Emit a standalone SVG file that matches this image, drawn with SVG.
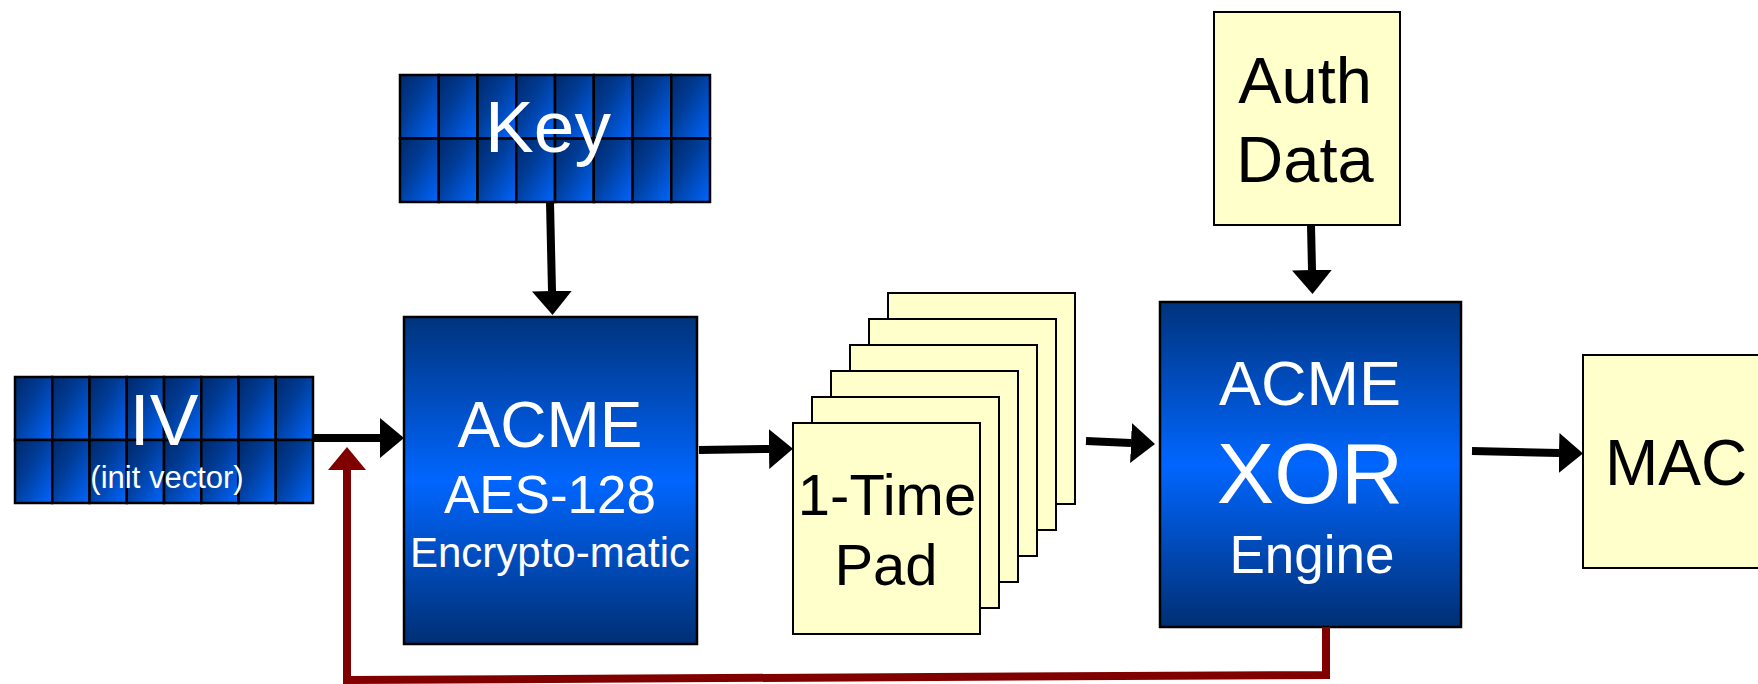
<svg xmlns="http://www.w3.org/2000/svg" width="1758" height="684" viewBox="0 0 1758 684">
  <defs>
    <linearGradient id="boxGrad" x1="0" y1="0" x2="0" y2="1">
      <stop offset="0" stop-color="#00337d"/>
      <stop offset="0.5" stop-color="#0066ff"/>
      <stop offset="1" stop-color="#002f74"/>
    </linearGradient>
    <linearGradient id="cellGrad" x1="0" y1="0" x2="1" y2="1">
      <stop offset="0" stop-color="#00286a"/>
      <stop offset="0.4" stop-color="#003c96"/>
      <stop offset="1" stop-color="#0066ff"/>
    </linearGradient>
    <marker id="arrowBlack" markerUnits="userSpaceOnUse" markerWidth="24" markerHeight="40" refX="0" refY="20" orient="auto">
      <path d="M0,0 L24,20 L0,40 Z" fill="#000"/>
    </marker>
    <marker id="arrowRed" markerUnits="userSpaceOnUse" markerWidth="23" markerHeight="38" refX="0" refY="19" orient="auto">
      <path d="M0,0 L23,19 L0,38 Z" fill="#800000"/>
    </marker>
    <style>
      .cell { fill: url(#cellGrad); stroke: #000; stroke-width: 2.5; }
      .blue { fill: url(#boxGrad); stroke: #000; stroke-width: 2.5; }
      .pad { fill: #ffffcc; stroke: #000; stroke-width: 2; }
      .wt { fill: #fff; font-family: "Liberation Sans", Arial, sans-serif; text-anchor: middle; }
      .bt { fill: #000; font-family: "Liberation Sans", Arial, sans-serif; text-anchor: middle; }
      .conn { fill: none; stroke: #000; stroke-width: 8; marker-end: url(#arrowBlack); }
      .feedback { fill: none; stroke: #800000; stroke-width: 8; stroke-linejoin: miter; marker-end: url(#arrowRed); }
    </style>
  </defs>

  <rect width="1758" height="684" fill="#fff"/>

  <!-- Key register: 8 x 2 cells -->
  <g id="key">
    <rect class="cell" x="400" y="75" width="38.75" height="63.5"/>
    <rect class="cell" x="438.75" y="75" width="38.75" height="63.5"/>
    <rect class="cell" x="477.5" y="75" width="38.75" height="63.5"/>
    <rect class="cell" x="516.25" y="75" width="38.75" height="63.5"/>
    <rect class="cell" x="555" y="75" width="38.75" height="63.5"/>
    <rect class="cell" x="593.75" y="75" width="38.75" height="63.5"/>
    <rect class="cell" x="632.5" y="75" width="38.75" height="63.5"/>
    <rect class="cell" x="671.25" y="75" width="38.75" height="63.5"/>
    <rect class="cell" x="400" y="138.5" width="38.75" height="63.5"/>
    <rect class="cell" x="438.75" y="138.5" width="38.75" height="63.5"/>
    <rect class="cell" x="477.5" y="138.5" width="38.75" height="63.5"/>
    <rect class="cell" x="516.25" y="138.5" width="38.75" height="63.5"/>
    <rect class="cell" x="555" y="138.5" width="38.75" height="63.5"/>
    <rect class="cell" x="593.75" y="138.5" width="38.75" height="63.5"/>
    <rect class="cell" x="632.5" y="138.5" width="38.75" height="63.5"/>
    <rect class="cell" x="671.25" y="138.5" width="38.75" height="63.5"/>
    <text class="wt" x="548" y="152" font-size="73">Key</text>
  </g>

  <!-- Initialisation vector register: 8 x 2 cells -->
  <g id="iv">
    <rect class="cell" x="15" y="377" width="37.25" height="63"/>
    <rect class="cell" x="52.25" y="377" width="37.25" height="63"/>
    <rect class="cell" x="89.5" y="377" width="37.25" height="63"/>
    <rect class="cell" x="126.75" y="377" width="37.25" height="63"/>
    <rect class="cell" x="164" y="377" width="37.25" height="63"/>
    <rect class="cell" x="201.25" y="377" width="37.25" height="63"/>
    <rect class="cell" x="238.5" y="377" width="37.25" height="63"/>
    <rect class="cell" x="275.75" y="377" width="37.25" height="63"/>
    <rect class="cell" x="15" y="440" width="37.25" height="63"/>
    <rect class="cell" x="52.25" y="440" width="37.25" height="63"/>
    <rect class="cell" x="89.5" y="440" width="37.25" height="63"/>
    <rect class="cell" x="126.75" y="440" width="37.25" height="63"/>
    <rect class="cell" x="164" y="440" width="37.25" height="63"/>
    <rect class="cell" x="201.25" y="440" width="37.25" height="63"/>
    <rect class="cell" x="238.5" y="440" width="37.25" height="63"/>
    <rect class="cell" x="275.75" y="440" width="37.25" height="63"/>
    <text class="wt" x="164" y="445" font-size="73">IV</text>
    <text class="wt" x="167" y="488" font-size="31">(init vector)</text>
  </g>

  <!-- AES block -->
  <g id="aes">
    <rect class="blue" x="404" y="317" width="293" height="327"/>
    <text class="wt" x="550" y="447" font-size="64">ACME</text>
    <text class="wt" x="550" y="513" font-size="53">AES-128</text>
    <text class="wt" x="550" y="567" font-size="42">Encrypto-matic</text>
  </g>

  <!-- Stack of one-time pads -->
  <g id="pad">
    <rect class="pad" x="888" y="293" width="187" height="211"/>
    <rect class="pad" x="869" y="319" width="187" height="211"/>
    <rect class="pad" x="850" y="345" width="187" height="211"/>
    <rect class="pad" x="831" y="371" width="187" height="211"/>
    <rect class="pad" x="812" y="397" width="187" height="211"/>
    <rect class="pad" x="793" y="423" width="187" height="211"/>
    <text class="bt" x="887" y="515" font-size="58">1-Time</text>
    <text class="bt" x="886" y="585" font-size="58">Pad</text>
  </g>

  <!-- Authenticated data -->
  <g id="auth">
    <rect class="pad" x="1214" y="12" width="186" height="213"/>
    <text class="bt" x="1305" y="103" font-size="65">Auth</text>
    <text class="bt" x="1305" y="182" font-size="65">Data</text>
  </g>

  <!-- XOR engine -->
  <g id="xor">
    <rect class="blue" x="1160" y="302" width="301" height="325"/>
    <text class="wt" x="1310" y="405" font-size="63">ACME</text>
    <text class="wt" x="1310" y="503" font-size="86">XOR</text>
    <text class="wt" x="1312" y="573" font-size="53">Engine</text>
  </g>

  <!-- Message authentication code -->
  <g id="mac">
    <rect class="pad" x="1583" y="355" width="200" height="213"/>
    <text class="bt" x="1605" y="485" font-size="64" style="text-anchor:start">MAC</text>
  </g>

  <!-- Connectors -->
  <g id="connectors">
    <path class="conn" d="M550,202 L552,291"/>
    <path class="conn" d="M313,438 L380,438"/>
    <path class="conn" d="M699,450 L769,449"/>
    <path class="conn" d="M1086,441 L1131,443"/>
    <path class="conn" d="M1311,225 L1312,270"/>
    <path class="conn" d="M1472,451 L1559,453"/>
    <path class="feedback" d="M1326,627 L1326,675 L347,680 L347,470"/>
  </g>
</svg>
